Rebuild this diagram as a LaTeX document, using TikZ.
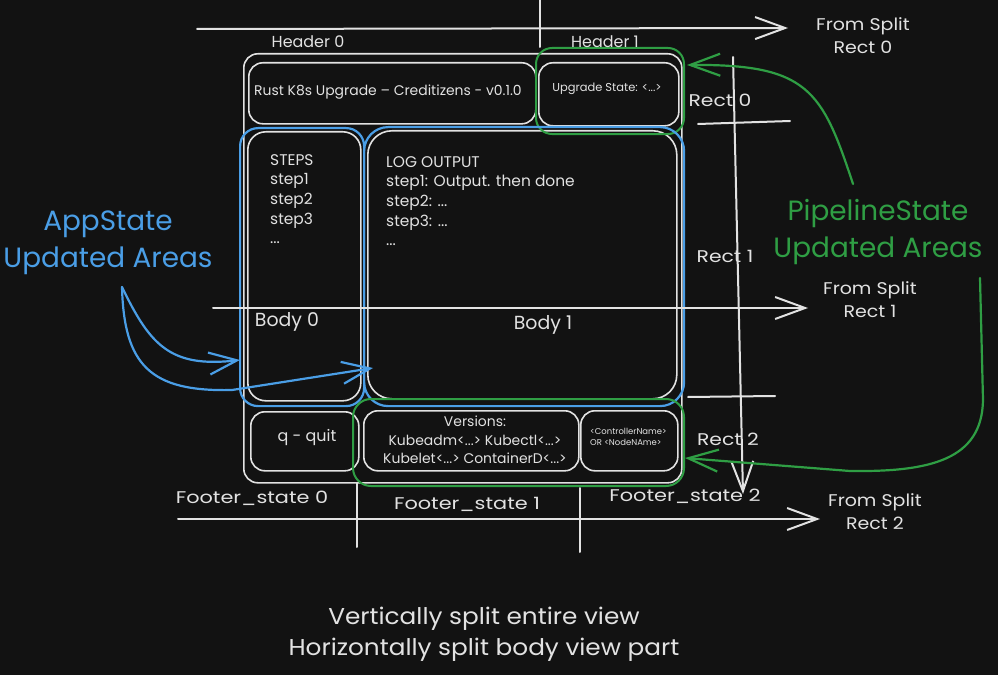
\documentclass[tikz,border=0pt]{standalone}
\usepackage{fontspec}
\setmainfont{Poppins}
\usetikzlibrary{arrows.meta}
\definecolor{bg}{RGB}{18,18,18}
\definecolor{ink}{RGB}{226,226,226}
\definecolor{sblue}{RGB}{74,158,230}
\definecolor{sgreen}{RGB}{47,158,68}
\newcommand\fsz[2]{\fontsize{#1}{#2}\selectfont}
\newcommand\wx[2]{\scalebox{#1}[1]{\begin{tabular}{@{}c@{}}#2\end{tabular}}}
\begin{document}
\begin{tikzpicture}[x=1bp,y=-1bp,
  wbox/.style={draw=ink,line width=1.6bp,rounded corners=14bp,inner sep=0pt,anchor=north west},
  bbox/.style={draw=sblue,line width=2.2bp,rounded corners=18bp,inner sep=0pt,anchor=north west},
  gbox/.style={draw=sgreen,line width=2bp,rounded corners=16bp,inner sep=0pt,anchor=north west},
  wline/.style={draw=ink,line width=2bp,line cap=round},
  warrow/.style={wline,-{Straight Barb[length=30bp,width=22bp,line width=2bp]}},
  barrow/.style={draw=sblue,line width=2.2bp,line cap=round,-{Straight Barb[length=28bp,width=22bp,line width=2.2bp]}},
  garrow/.style={draw=sgreen,line width=2.2bp,line cap=round,-{Straight Barb[length=30bp,width=22bp,line width=2.2bp]}},
  lbl/.style={text=ink,inner sep=0pt,font=\fsz{16}{23},align=center},
  lblw/.style={text=ink,inner sep=0pt,font=\fsz{17}{23}},
]
\fill[bg] (0,0) rectangle (998,675);
\useasboundingbox (0,0) rectangle (998,675);

% ---- main frame and boxes
\node[wbox,minimum width=438bp,minimum height=429bp] (outer) at (243,53) {};
\node[wbox,minimum width=287bp,minimum height=61bp] (hdr0) at (248,62) {};
\node[wbox,minimum width=140bp,minimum height=63bp] (hdr1) at (538,62) {};
\node[wbox,minimum width=113bp,minimum height=269bp,rounded corners=18bp] (body0) at (247,131) {};
\node[wbox,minimum width=309bp,minimum height=268bp,rounded corners=24bp] (body1) at (367,130) {};
\node[wbox,minimum width=108bp,minimum height=59bp] (ft0) at (250,411) {};
\node[wbox,minimum width=215bp,minimum height=60bp] (ft1) at (363,410) {};
\node[wbox,minimum width=97bp,minimum height=60bp] (ft2) at (580,410) {};

% ---- coloured highlight areas
\node[gbox,minimum width=148bp,minimum height=86bp] (ghdr) at (535,47) {};
\node[bbox,minimum width=124bp,minimum height=278bp] (bbody0) at (239,127) {};
\node[bbox,minimum width=320bp,minimum height=279bp,rounded corners=24bp] (bbody1) at (363,126) {};
\node[gbox,minimum width=331bp,minimum height=87bp,rounded corners=18bp] (gft) at (352,398) {};

% ---- texts in boxes
\node[text=ink,font=\fsz{14}{16}] (hdr0t) at (388,92) {Rust K8s Upgrade – Creditizens - v0.1.0};
\node[text=ink,font=\fsz{11.5}{13}] (hdr1t) at (607,89) {Upgrade State: <...>};
\node[text=ink,font=\fsz{15.5}{19.7},align=left,anchor=west,inner sep=0pt] (stepst) at (270,199)
  {STEPS\\step1\\step2\\step3\\...};
\node[text=ink,font=\fsz{15.5}{19.7},align=left,anchor=west,inner sep=0pt] (logt) at (386,201)
  {LOG OUTPUT\\step1: Output. then done\\step2: ...\\step3: ...\\...};
\node[text=ink,font=\fsz{16}{18}] (quitt) at (307,438) {q - quit};
\node[text=ink,font=\fsz{14}{18.5},align=center,inner sep=0pt] (verst) at (475,440)
  {Versions:\\Kubeadm<...> Kubectl<...>\\Kubelet<...> ContainerD<...>};
\node[text=ink,font=\fsz{8.5}{11.5},align=left,anchor=west,inner sep=0pt] (ctrlt) at (590,437)
  {<ControllerName>\\OR <NodeNAme>};
\node[lbl,font=\fsz{19}{20}] (b0l) at (287,322) {Body 0};
\node[lbl,font=\fsz{19}{20}] (b1l) at (543,325) {Body 1};

% ---- split lines
\coordinate (ta1) at (197,29); \coordinate (ta2) at (788,28);
\draw[warrow] (ta1) -- (ta2);
\coordinate (tv1) at (540,0); \coordinate (tv2) at (540,47);
\draw[wline] (tv1) -- (tv2);
\coordinate (ba1) at (213,308); \coordinate (ba2) at (808,308);
\draw[warrow] (ba1) -- (ba2);
\coordinate (fa1) at (178,519); \coordinate (fa2) at (820,519);
\draw[warrow] (fa1) -- (fa2);
\coordinate (rv1) at (733,57); \coordinate (rv2) at (743,494);
\draw[warrow] (rv1) -- (rv2);
\coordinate (tk1a) at (698,124); \coordinate (tk1b) at (790,121);
\draw[wline] (tk1a) -- (tk1b);
\coordinate (tk2a) at (688,397); \coordinate (tk2b) at (775,396);
\draw[wline] (tk2a) -- (tk2b);
\coordinate (fv1a) at (357,483); \coordinate (fv1b) at (357,547);
\draw[wline] (fv1a) -- (fv1b);
\coordinate (fv2a) at (580,488); \coordinate (fv2b) at (580,552);
\draw[wline] (fv2a) -- (fv2b);

% ---- labels
\node[lbl] (h0) at (308,42) {Header 0};
\node[lbl] (h1) at (605,42) {Header 1};
\node[lblw] (fs0) at (863,37) {\wx{1.12}{From Split\\Rect 0}};
\node[lblw] (fs1) at (870,301) {\wx{1.12}{From Split\\Rect 1}};
\node[lblw] (fs2) at (875,513) {\wx{1.12}{From Split\\Rect 2}};
\node[lblw] (r0) at (720,102) {\wx{1.2}{Rect 0}};
\node[lblw] (r1) at (725,258) {\wx{1.2}{Rect 1}};
\node[lblw] (r2) at (728,441) {\wx{1.2}{Rect 2}};
\node[lblw] (f0) at (252,499) {\wx{1.23}{Footer\_state 0}};
\node[lblw] (f1) at (467,505) {\wx{1.23}{Footer\_state 1}};
\node[lblw] (f2) at (685,497) {\wx{1.23}{Footer\_state 2}};
\node[lblw,font=\fsz{23}{31}] (bottom) at (484,634) {\wx{1.08}{Vertically split entire view\\Horizontally split body view part}};

% ---- annotations
\node[text=sblue,font=\fsz{28}{37},align=center,inner sep=0pt] (app) at (108,243) {AppState\\Updated Areas};
\node[text=sgreen,font=\fsz{28}{37},align=center,inner sep=0pt] (pipe) at (878,232) {PipelineState\\Updated Areas};

\coordinate (bs) at (122,287);
\coordinate (bt1) at (240,360);
\coordinate (bt2) at (373,368);
\draw[barrow] (bs) .. controls (150,345) and (170,368) .. (bt1);
\coordinate (bm) at (232,390);
\draw[barrow] (bs) .. controls (124,365) and (150,392) .. (bm) -- (bt2);

\coordinate (gs1) at (853,184);
\coordinate (gt1) at (687,65);
\draw[garrow] (gs1) .. controls (822,90) and (808,64) .. (gt1);
\coordinate (gs2) at (980,278);
\coordinate (gm2) at (983,400);
\coordinate (gn2) at (850,471);
\coordinate (gt2) at (685,458);
\draw[garrow] (gs2) -- (gm2) .. controls (982,460) and (930,472) .. (gn2) -- (gt2);
\end{tikzpicture}
\end{document}
